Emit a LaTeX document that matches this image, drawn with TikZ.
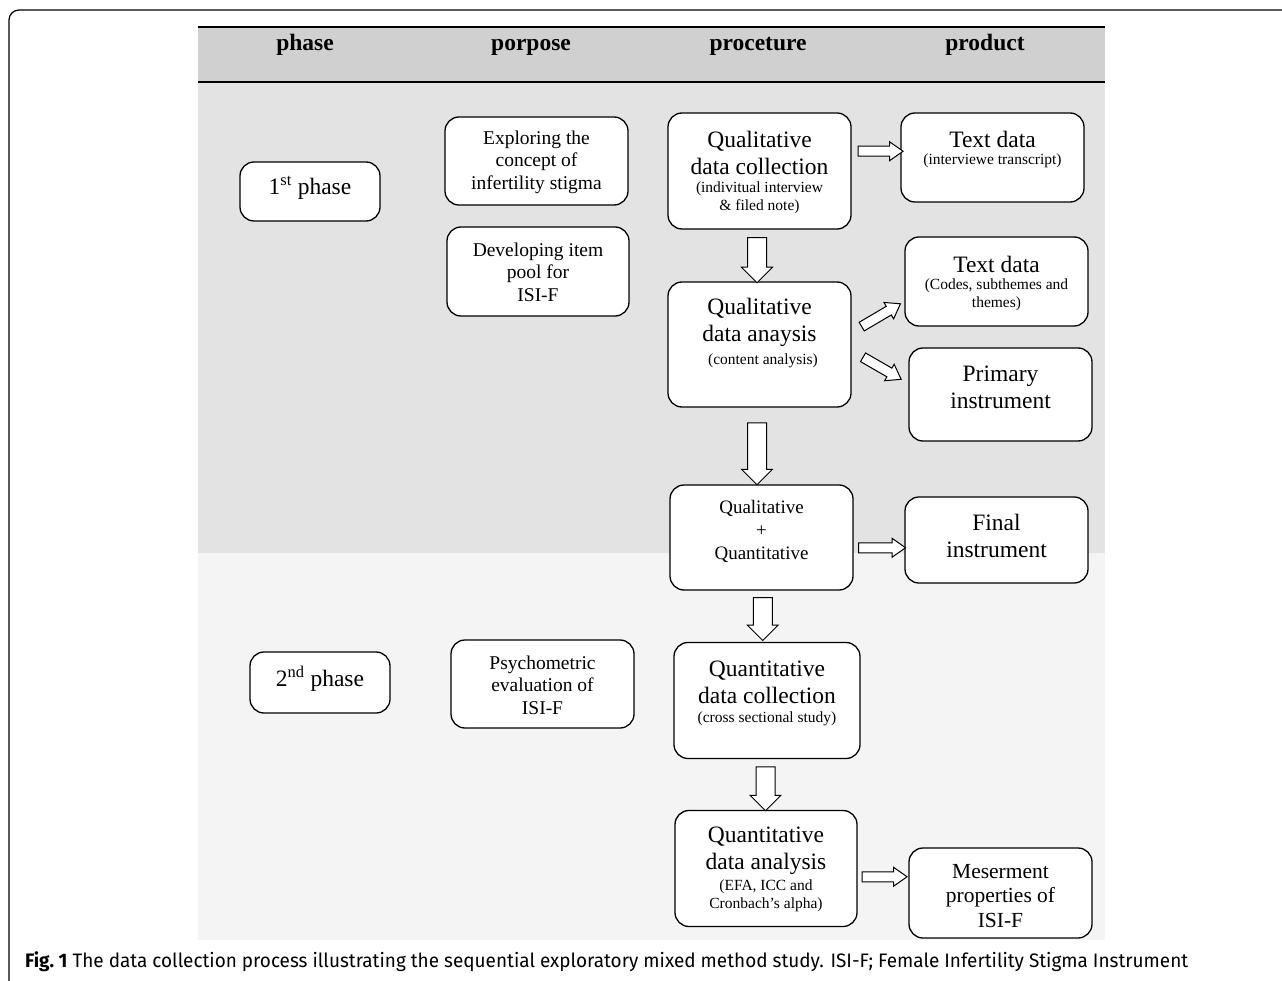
\documentclass[tikz,border=0pt]{standalone}
\usepackage{fontspec}
\setmainfont{Liberation Serif}
\newfontfamily\capfont{Fira Sans}
\usetikzlibrary{shapes.arrows,calc}
\definecolor{hdr}{RGB}{207,208,207}
\definecolor{bgone}{RGB}{227,227,227}
\definecolor{bgtwo}{RGB}{244,244,244}
\begin{document}
\begin{tikzpicture}[x=1pt,y=-1pt,
  box/.style={draw, line width=1.3pt, rounded corners=14pt, fill=white, inner sep=0pt},
  txt/.style={align=center, inner sep=0pt},
  big/.style={txt, font=\fontsize{23.5}{27}\selectfont},
  mid/.style={txt, font=\fontsize{19.5}{22.5}\selectfont},
  sml/.style={txt, font=\fontsize{15.5}{18}\selectfont},
  hdrtxt/.style={font=\fontsize{23.5}{26}\selectfont\bfseries, inner sep=0pt, anchor=base},
  darr/.style={single arrow, draw, fill=white, line width=1pt, inner xsep=0pt, inner ysep=9pt,
    minimum width=0pt, single arrow head extend=6pt, single arrow tip angle=90, rotate=-90},
  harr/.style={single arrow, draw, fill=white, line width=1pt, inner xsep=0pt, inner ysep=4.5pt,
    minimum width=0pt, single arrow head extend=4.5pt, single arrow tip angle=70},
]
\useasboundingbox (0,0) rectangle (1282,981);
% outer frame
\draw[line width=1.2pt, rounded corners=10pt] (9,990) -- (9,10) -- (1295,10);
% backgrounds
\fill[bgone] (198,82) rectangle (1105,553);
\fill[bgtwo] (198,553) rectangle (1105,940);
\fill[hdr] (198,27) rectangle (1105,82);
\draw[line width=1.2pt] (198,27) -- (1105,27);
\draw[line width=1.2pt] (198,82) -- (1105,82);
\node[hdrtxt] (h1) at (305,51) {phase};
\node[hdrtxt] (h2) at (531,51) {porpose};
\node[hdrtxt] (h3) at (758,51) {proceture};
\node[hdrtxt] (h4) at (985,51) {product};

% boxes
\node[box, minimum width=140pt, minimum height=59pt] (n1) at (310,191.5) {};
\node[big] at (310,188) {1\textsuperscript{st} phase};
\node[box, minimum width=183pt, minimum height=88pt] (n2) at (536.5,161) {};
\node[mid] at (536.5,162) {Exploring the\\concept of\\infertility stigma};
\node[box, minimum width=182pt, minimum height=89pt] (n3) at (538,271.5) {};
\node[mid] at (538,272) {Developing item\\pool for\\ISI-F};

\node[box, minimum width=183pt, minimum height=116pt] (n4) at (759.5,171) {};
\node[big] at (759.5,153) {Qualitative\\data collection};
\node[sml] at (759.5,198) {(indivitual interview\\\& filed note)};
\node[box, minimum width=183pt, minimum height=89pt] (n5) at (992.5,157.5) {};
\node[big] at (992.5,139.5) {Text data};
\node[sml] at (992.5,161) {(interviewe transcript)};

\node[box, minimum width=183pt, minimum height=125pt] (n6) at (759.5,344.5) {};
\node[big] at (759.5,322.5) {Qualitative\\data anaysis};
\node[sml] at (763,361) {(content analysis)};
\node[box, minimum width=183pt, minimum height=89pt] (n7) at (996.5,281.5) {};
\node[big] at (996.5,264) {Text data};
\node[sml] at (996.5,294.5) {(Codes, subthemes and\\themes)};
\node[box, minimum width=183pt, minimum height=93pt] (n8) at (1000.5,394.5) {};
\node[big] at (1000.5,387) {Primary\\instrument};

\node[box, minimum width=183pt, minimum height=105pt] (n9) at (761.5,537.5) {};
\node[txt, font=\fontsize{19}{23}\selectfont] at (761.5,531.5) {Qualitative\\+\\Quantitative};
\node[box, minimum width=183pt, minimum height=86pt] (n10) at (996.5,540) {};
\node[big] at (996.5,535.5) {Final\\instrument};

\node[box, minimum width=140pt, minimum height=61pt] (n11) at (320,682.5) {};
\node[big] at (320,679) {2\textsuperscript{nd} phase};
\node[box, minimum width=183pt, minimum height=88pt] (n12) at (542.5,684) {};
\node[mid] at (542.5,685) {Psychometric\\evaluation of\\ISI-F};

\node[box, minimum width=186pt, minimum height=116pt] (n13) at (767,700.5) {};
\node[big] at (767,682.5) {Quantitative\\data collection};
\node[sml] at (767,719) {(cross sectional study)};
\node[box, minimum width=182pt, minimum height=116pt] (n14) at (766,868.5) {};
\node[big] at (766,850.5) {Quantitative\\data analysis};
\node[sml] at (766,896) {(EFA, ICC and\\Cronbach's alpha)};
\node[box, minimum width=183pt, minimum height=90pt] (n15) at (1000.5,893) {};
\node[txt, font=\fontsize{21.5}{24.5}\selectfont] at (1000.5,896) {Meserment\\properties of\\ISI-F};

% block arrows
\node[darr, minimum height=45pt] (a1) at ($(n4.south)!0.5!(n6.north)+(-2.5,0)$) {};
\node[darr, minimum height=62pt] (a2) at ($(n6.south)!0.5!(n9.north)+(-3.5,3)$) {};
\node[darr, minimum height=43pt] (a3) at ($(n9.south)!0.5!(n13.north)+(-1.5,-2)$) {};
\node[darr, minimum height=44pt] (a4) at ($(n13.south)!0.5!(n14.north)+(-1,-0.5)$) {};
\node[harr, minimum height=45pt] (r1) at ($(n4.east)!0.5!(n5.west)+(1,-13)$) {};
\node[harr, minimum height=45pt, rotate=30.5] (r2) at ($(n6.east)!0.5!(n7.west)+(0,4)$) {};
\node[harr, minimum height=44pt, rotate=-30] (r3) at ($(n6.east)!0.5!(n8.west)+(-1,-3)$) {};
\node[harr, minimum height=47pt] (r4) at ($(n9.east)!0.5!(n10.west)+(-0.5,9)$) {};
\node[harr, minimum height=45pt] (r5) at ($(n14.east)!0.5!(n15.west)+(-2,-4)$) {};

% caption
\node[anchor=west, inner sep=0pt] (cap) at (25,962)
  {\resizebox{1163pt}{\height}{\capfont\fontsize{19.5}{22}\selectfont\textbf{Fig.~1} The data collection process illustrating the sequential exploratory mixed method study. ISI-F; Female Infertility Stigma Instrument}};
\end{tikzpicture}
\end{document}
